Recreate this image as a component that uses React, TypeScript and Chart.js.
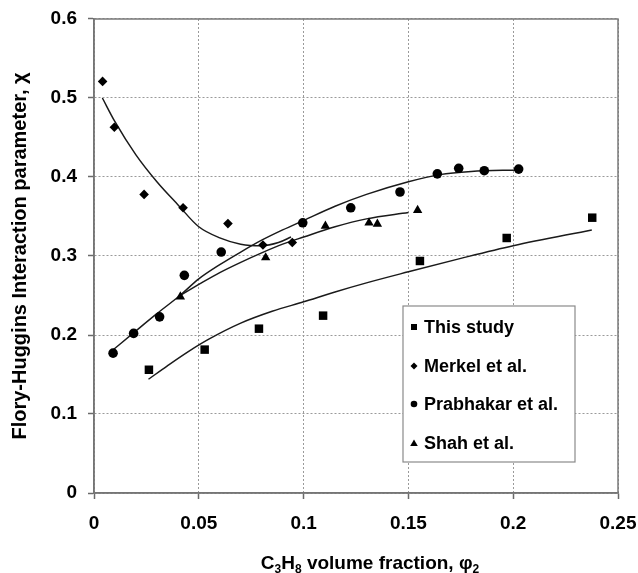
import React, { useEffect, useRef } from 'react';
import { Chart, registerables } from 'chart.js';

Chart.register(...registerables);

const FONT = '"Liberation Sans", Arial, sans-serif';

const seriesNames = ['This study', 'Merkel et al.', 'Prabhakar et al.', 'Shah et al.'];
const xTickLabels = ['0', '0.05', '0.1', '0.15', '0.2', '0.25'];
const yTickLabels = ['0', '0.1', '0.2', '0.3', '0.4', '0.5', '0.6'];

// measured points
const thisStudyX = [0.0262, 0.0528, 0.0787, 0.1093, 0.1555, 0.1969, 0.2377];
const thisStudyY = [0.156, 0.1815, 0.208, 0.2245, 0.2937, 0.3228, 0.3485];
const merkelX = [0.0041, 0.0097, 0.0239, 0.0425, 0.0639, 0.0806, 0.0946];
const merkelY = [0.521, 0.463, 0.378, 0.361, 0.341, 0.314, 0.317];
const prabhakarX = [0.0091, 0.0189, 0.0313, 0.0431, 0.0607, 0.0996, 0.1225, 0.146, 0.1638, 0.174, 0.1862, 0.2026];
const prabhakarY = [0.177, 0.202, 0.223, 0.2755, 0.305, 0.342, 0.361, 0.381, 0.404, 0.411, 0.408, 0.41];
const shahX = [0.0412, 0.0819, 0.1104, 0.1312, 0.1352, 0.1544];
const shahY = [0.2485, 0.298, 0.338, 0.342, 0.3405, 0.358];

// trend curves
const thisStudyFitX = [0.026, 0.035, 0.045, 0.055, 0.07, 0.085, 0.1, 0.115, 0.13, 0.15, 0.175, 0.2, 0.2375];
const thisStudyFitY = [0.144, 0.161, 0.179, 0.195, 0.215, 0.23, 0.242, 0.2545, 0.266, 0.28, 0.297, 0.313, 0.333];
const merkelFitX = [0.004, 0.01, 0.02, 0.03, 0.04, 0.05, 0.06, 0.07, 0.08, 0.088, 0.094];
const merkelFitY = [0.5, 0.47, 0.428, 0.394, 0.365, 0.337, 0.323, 0.315, 0.313, 0.317, 0.324];
const prabhakarFitX = [0.009, 0.019, 0.03, 0.041, 0.05, 0.06, 0.07, 0.08, 0.09, 0.1, 0.115, 0.13, 0.15, 0.165, 0.18, 0.2025];
const prabhakarFitY = [0.181, 0.203, 0.227, 0.25, 0.271, 0.289, 0.305, 0.32, 0.333, 0.345, 0.363, 0.378, 0.394, 0.403, 0.407, 0.409];
const shahFitX = [0.041, 0.05, 0.06, 0.07, 0.08, 0.09, 0.1, 0.115, 0.13, 0.15];
const shahFitY = [0.25, 0.264, 0.279, 0.292, 0.304, 0.315, 0.324, 0.337, 0.347, 0.355];

const markerStyles = ['rect', 'rectRot', 'circle', 'triangle'];
const markerRadius = [6, 4.8, 4.8, 5.4];

const zip = (xs: number[], ys: number[]) => xs.map((x, i) => ({ x, y: ys[i] }));

const legendPlugin = {
  id: 'insideLegend',
  afterDraw(chart: any) {
    const ctx = chart.ctx;
    ctx.save();
    const bx = 403, by = 306, bw = 172, bh = 156;
    ctx.fillStyle = '#ffffff';
    ctx.fillRect(bx, by, bw, bh);
    ctx.strokeStyle = '#8a8a8a';
    ctx.lineWidth = 1.2;
    ctx.strokeRect(bx, by, bw, bh);
    const ys = [327, 366, 404, 443];
    ctx.fillStyle = '#000';
    seriesNames.forEach((name, i) => {
      const cx = 414, cy = ys[i];
      ctx.beginPath();
      if (i === 0) ctx.rect(cx - 3, cy - 3, 6, 6);
      else if (i === 1) {
        ctx.moveTo(cx, cy - 3.5); ctx.lineTo(cx + 3.5, cy); ctx.lineTo(cx, cy + 3.5); ctx.lineTo(cx - 3.5, cy); ctx.closePath();
      } else if (i === 2) ctx.arc(cx, cy, 3.3, 0, Math.PI * 2);
      else {
        ctx.moveTo(cx, cy - 3.5); ctx.lineTo(cx + 3.8, cy + 3); ctx.lineTo(cx - 3.8, cy + 3); ctx.closePath();
      }
      ctx.fill();
      ctx.font = `bold 18px ${FONT}`;
      ctx.textBaseline = 'middle';
      ctx.textAlign = 'left';
      ctx.fillText(name, 424, cy + 1);
    });
    ctx.restore();
  },
};

const framePlugin = {
  id: 'frame',
  afterDatasetsDraw(chart: any) {
    const { ctx, chartArea } = chart;
    ctx.save();
    ctx.strokeStyle = '#7a7a7a';
    ctx.lineWidth = 1.5;
    ctx.strokeRect(chartArea.left, chartArea.top, chartArea.right - chartArea.left, chartArea.bottom - chartArea.top);
    ctx.restore();
  },
};

const xTitlePlugin = {
  id: 'xTitle',
  afterDraw(chart: any) {
    const ctx = chart.ctx;
    ctx.save();
    const big = `bold 19px ${FONT}`;
    const small = `bold 12px ${FONT}`;
    const parts: [string, boolean][] = [
      ['C', false], ['3', true], ['H', false], ['8', true], [' volume fraction, ', false], ['\u03C6', false], ['2', true],
    ];
    let total = 0;
    parts.forEach(([t, sub]) => { ctx.font = sub ? small : big; total += ctx.measureText(t).width; });
    let x = 370 - total / 2;
    const base = 569;
    ctx.fillStyle = '#000';
    ctx.textBaseline = 'alphabetic';
    ctx.textAlign = 'left';
    parts.forEach(([t, sub]) => {
      ctx.font = sub ? small : big;
      ctx.fillText(t, x, sub ? base + 4 : base);
      x += ctx.measureText(t).width;
    });
    ctx.restore();
  },
};

export default function App() {
  const ref = useRef<HTMLCanvasElement | null>(null);
  useEffect(() => {
    document.body.style.margin = '0';
    const canvas = ref.current!;
    const scatterSets = [
      zip(thisStudyX, thisStudyY),
      zip(merkelX, merkelY),
      zip(prabhakarX, prabhakarY),
      zip(shahX, shahY),
    ].map((data, i) => ({
      label: seriesNames[i],
      data,
      showLine: false,
      pointStyle: markerStyles[i],
      pointRadius: markerRadius[i],
      pointBackgroundColor: '#000',
      pointBorderColor: '#000',
      pointBorderWidth: 0,
    }));
    const fitSets = [
      zip(thisStudyFitX, thisStudyFitY),
      zip(merkelFitX, merkelFitY),
      zip(prabhakarFitX, prabhakarFitY),
      zip(shahFitX, shahFitY),
    ].map((data, i) => ({
      label: seriesNames[i] + ' fit',
      data,
      showLine: true,
      pointRadius: 0,
      borderColor: '#1a1a1a',
      borderWidth: 1.5,
      cubicInterpolationMode: 'monotone',
      fill: false,
    }));
    const chart = new Chart(canvas, {
      type: 'scatter',
      data: { datasets: [...scatterSets, ...fitSets] as any },
      options: {
        animation: false,
        responsive: false,
        maintainAspectRatio: false,
        layout: { padding: { top: 19, right: 20, left: 0, bottom: 0 } },
        plugins: { legend: { display: false }, tooltip: { enabled: false } },
        scales: {
          x: {
            type: 'linear',
            min: 0,
            max: 0.25,
            afterFit: (s: any) => { s.height = 80; s.paddingRight = 0; s.paddingLeft = 0; },
            afterBuildTicks: (s: any) => { s.ticks = xTickLabels.map((_, i) => ({ value: i * 0.05 })); },
            ticks: {
              stepSize: 0.05,
              padding: 13,
              color: '#000',
              font: { family: FONT, size: 19, weight: 'bold' },
              callback: (_v: any, i: number) => xTickLabels[i],
              maxRotation: 0,
            },
            grid: { color: '#9a9a9a', lineWidth: 1, tickLength: 6, tickColor: '#6a6a6a', tickWidth: 1.5 },
            border: { color: '#6a6a6a', width: 1.5, dash: [2, 2] },
          },
          y: {
            type: 'linear',
            min: 0,
            max: 0.6,
            afterFit: (s: any) => { s.width = 94; s.paddingTop = 0; s.paddingBottom = 0; },
            afterBuildTicks: (s: any) => { s.ticks = yTickLabels.map((_, i) => ({ value: i * 0.1 })); },
            ticks: {
              stepSize: 0.1,
              padding: 11,
              color: '#000',
              font: { family: FONT, size: 19, weight: 'bold' },
              callback: (_v: any, i: number) => yTickLabels[i],
            },
            grid: { color: '#9a9a9a', lineWidth: 1, tickLength: 6, tickColor: '#6a6a6a', tickWidth: 1.5 },
            border: { color: '#6a6a6a', width: 1.5, dash: [2, 2] },
            title: {
              display: true,
              text: 'Flory-Huggins Interaction parameter, \u03C7',
              color: '#000',
              font: { family: FONT, size: 20, weight: 'bold' },
              padding: { top: 8, bottom: 0 },
            },
          },
        },
      },
      plugins: [framePlugin, legendPlugin, xTitlePlugin],
    } as any);
    return () => chart.destroy();
  }, []);
  return <canvas ref={ref} width={638} height={573} style={{ display: 'block' }} />;
}
